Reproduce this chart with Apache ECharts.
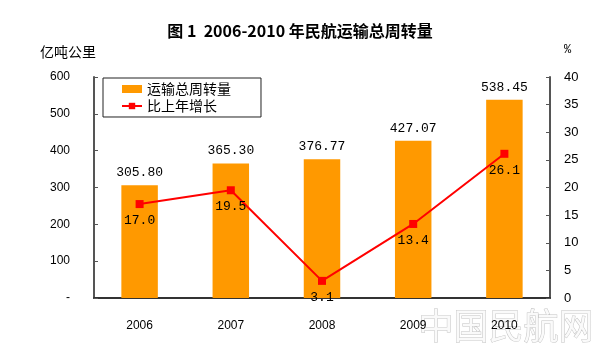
<!DOCTYPE html>
<html>
<head>
<meta charset="utf-8">
<script src="https://cdn.jsdelivr.net/npm/echarts@6/dist/echarts.min.js"></script>
<style>html,body{margin:0;padding:0;background:#fff}#c{width:600px;height:348px}</style>
</head>
<body>
<div id="c"></div>
<script>
var categories = ['2006', '2007', '2008', '2009', '2010'];
var turnover = [305.80, 365.30, 376.77, 427.07, 538.45];
var growth = [17.0, 19.5, 3.1, 13.4, 26.1];
var leftTicks = [0, 100, 200, 300, 400, 500, 600];
var rightTicks = [0, 5, 10, 15, 20, 25, 30, 35, 40];

var chart = echarts.init(document.getElementById('c'));
var cjk = '"Noto Sans CJK SC", sans-serif';
var mono = '"Liberation Mono", "DejaVu Sans Mono", monospace';
chart.setOption({
  animation: false,
  backgroundColor: '#fff',
  title: {
    text: '图 1  2006-2010 年民航运输总周转量',
    left: 'center', top: 18,
    textStyle: { fontFamily: cjk, fontSize: 16, fontWeight: 'bold', color: '#000' }
  },
  legend: {
    left: 103, top: 78, orient: 'vertical',
    itemGap: 3, itemWidth: 20, itemHeight: 8,
    padding: [4, 30, 4, 18],
    borderColor: '#222', borderWidth: 1,
    textStyle: { fontFamily: cjk, fontSize: 14, color: '#000' },
    data: [
      { name: '运输总周转量', icon: 'rect' },
      { name: '比上年增长' }
    ]
  },
  graphic: [
    { type: 'text', left: 40, top: 45, style: { text: '亿吨公里', font: '14px ' + cjk, fill: '#000' } },
    { type: 'text', left: 564, top: 44, style: { text: '%', font: '12px ' + mono, fill: '#000' } },
    { type: 'text', left: 418, top: 308, z: -1, style: { text: '中国民航网', font: '35px ' + cjk, fill: '#fafafa', stroke: '#c4c4c4', lineWidth: 1 } }
  ],
  grid: { left: 94, right: 50, top: 77, bottom: 50 },
  xAxis: {
    type: 'category', data: categories,
    axisLine: { lineStyle: { color: '#333', width: 2 } },
    axisTick: { inside: true, length: 5, lineStyle: { color: '#333' } },
    axisLabel: { margin: 22, fontFamily: 'Arial, "Liberation Sans"', fontSize: 12, color: '#000' }
  },
  yAxis: [
    {
      type: 'value', min: 0, max: 600, interval: 100,
      axisLine: { show: true, lineStyle: { color: '#555', width: 2 } },
      axisTick: { show: true, inside: true, length: 4, lineStyle: { color: '#555' } },
      splitLine: { show: false },
      axisLabel: {
        margin: 24, fontFamily: 'Arial, "Liberation Sans"', fontSize: 12, color: '#000',
        formatter: function (v) { return leftTicks.indexOf(v) === 0 ? '-' : String(v); }
      }
    },
    {
      type: 'value', min: 0, max: 40, interval: 5,
      axisLine: { show: true, lineStyle: { color: '#555', width: 2 } },
      axisTick: { show: true, inside: true, length: 4, lineStyle: { color: '#555' } },
      splitLine: { show: false },
      axisLabel: {
        margin: 14, fontFamily: 'Arial, "Liberation Sans"', fontSize: 13, color: '#000',
        formatter: function (v) { return rightTicks.indexOf(v) >= 0 ? String(v) : ''; }
      }
    }
  ],
  series: [
    {
      name: '运输总周转量', type: 'bar', data: turnover, barWidth: '40%',
      itemStyle: { color: '#FF9900' },
      label: {
        show: true, position: 'top', distance: 6,
        fontFamily: mono, fontSize: 13, color: '#000',
        formatter: function (p) { return p.value.toFixed(2); }
      }
    },
    {
      name: '比上年增长', type: 'line', yAxisIndex: 1, data: growth,
      symbol: 'rect', symbolSize: 8,
      lineStyle: { color: '#FF0000', width: 2 },
      itemStyle: { color: '#FF0000' },
      label: {
        show: true, position: 'bottom', distance: 6,
        fontFamily: mono, fontSize: 13, color: '#000',
        formatter: function (p) { return p.value.toFixed(1); }
      }
    }
  ]
});
</script>
</body>
</html>
